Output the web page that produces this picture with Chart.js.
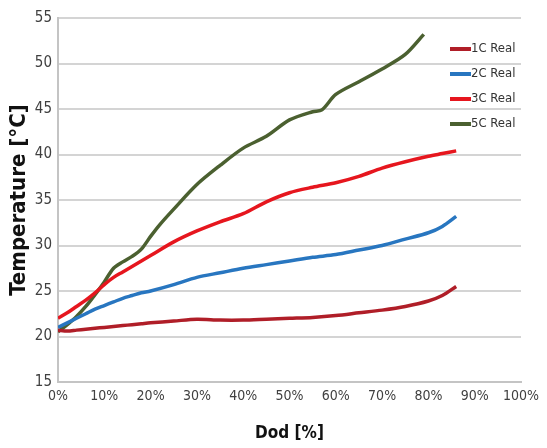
<!DOCTYPE html>
<html>
<head>
<meta charset="utf-8">
<script src="https://cdn.jsdelivr.net/npm/chart.js@4"></script>
<style>
  html, body { margin: 0; padding: 0; background: #fff; }
  #wrap { width: 547px; height: 448px; }
</style>
</head>
<body>
<div id="wrap"><canvas id="tempChart" width="547" height="448"></canvas></div>
<script>
// DoD sample points [%]
const dodPoints = [0, 2, 4, 6, 8, 10, 12, 14, 16, 18, 20, 25, 30, 35, 40, 45, 50, 55, 60, 65, 70, 75, 80, 83, 86];
const dodPoints5C = [0, 2, 4, 6, 8, 10, 12, 14, 16, 18, 20, 22, 25, 30, 35, 40, 45, 50, 55, 57, 60, 65, 70, 75, 79];

// Temperatures [°C]
const temp1C = [20.7, 20.6, 20.7, 20.8, 20.9, 21.0, 21.1, 21.2, 21.3, 21.4, 21.5, 21.7, 21.9, 21.8, 21.8, 21.9, 22.0, 22.1, 22.3, 22.6, 22.9, 23.3, 23.9, 24.5, 25.5];
const temp2C = [21.0, 21.5, 22.0, 22.5, 23.0, 23.4, 23.8, 24.2, 24.5, 24.8, 25.0, 25.7, 26.5, 27.0, 27.5, 27.9, 28.3, 28.7, 29.0, 29.5, 30.0, 30.7, 31.4, 32.1, 33.2];
const temp3C = [22.0, 22.6, 23.3, 24.0, 24.8, 25.7, 26.5, 27.1, 27.7, 28.3, 28.9, 30.4, 31.6, 32.6, 33.5, 34.8, 35.8, 36.4, 36.9, 37.6, 38.5, 39.2, 39.8, 40.1, 40.4];
const temp5C = [20.5, 21.3, 22.2, 23.3, 24.6, 26.0, 27.5, 28.2, 28.8, 29.6, 31.0, 32.3, 34.0, 36.7, 38.8, 40.7, 42.0, 43.8, 44.7, 44.9, 46.6, 48.0, 49.4, 51.0, 53.2];

const seriesLabels = ['1C Real', '2C Real', '3C Real', '5C Real'];
const seriesColors = ['#b01e28', '#2876c0', '#e6161e', '#4b6030'];

function toXY(xs, ys) {
    return xs.map((x, i) => ({ x: x, y: ys[i] }));
}

// condensed face to get close to the squeezed look of the original
const fontFamily = "'DejaVu Sans', sans-serif";

// legend drawn inside the plot area, top right
const insideLegend = {
    id: 'insideLegend',
    afterDraw(chart) {
        const ctx = chart.ctx;
        const left = 450;
        const top = 49;
        const step = 25;
        ctx.save();
        chart.data.datasets.forEach((ds, i) => {
            const y = top + i * step;
            ctx.strokeStyle = ds.borderColor;
            ctx.lineWidth = 4;
            ctx.beginPath();
            ctx.moveTo(left, y);
            ctx.lineTo(left + 21, y);
            ctx.stroke();
            ctx.fillStyle = '#333';
            ctx.font = 'condensed 13px ' + fontFamily;
            ctx.textBaseline = 'middle';
            ctx.fillText(ds.label, left + 21, y);
        });
        ctx.restore();
    }
};

const ctx = document.getElementById('tempChart').getContext('2d');

new Chart(ctx, {
    type: 'line',
    data: {
        datasets: [
            { label: seriesLabels[0], data: toXY(dodPoints, temp1C), borderColor: seriesColors[0] },
            { label: seriesLabels[1], data: toXY(dodPoints, temp2C), borderColor: seriesColors[1] },
            { label: seriesLabels[2], data: toXY(dodPoints, temp3C), borderColor: seriesColors[2] },
            { label: seriesLabels[3], data: toXY(dodPoints5C, temp5C), borderColor: seriesColors[3] }
        ]
    },
    options: {
        responsive: false,
        animation: false,
        layout: { padding: { left: 6, right: 26, top: 18, bottom: 4 } },
        elements: {
            line: { borderWidth: 3.5, tension: 0.3, fill: false },
            point: { radius: 0 }
        },
        plugins: {
            legend: { display: false },
            tooltip: { enabled: false }
        },
        scales: {
            x: {
                type: 'linear',
                min: 0,
                max: 100,
                ticks: {
                    stepSize: 10,
                    color: '#404040',
                    font: { size: 14, weight: 'condensed', family: fontFamily },
                    padding: 6,
                    callback: function(value) { return value + '%'; }
                },
                grid: { display: false, drawTicks: false },
                border: { color: '#c4c4c4', width: 2 },
                title: {
                    display: true,
                    text: 'Dod [%]',
                    color: '#111',
                    font: { size: 17, weight: 'bold condensed', family: fontFamily },
                    padding: { top: 6, bottom: 0 }
                },
                afterFit: function(scale) { scale.height = 62; }
            },
            y: {
                min: 15,
                max: 55,
                ticks: {
                    stepSize: 5,
                    color: '#404040',
                    font: { size: 15, weight: 'condensed', family: fontFamily },
                    padding: 6
                },
                grid: { color: '#d4d4d4', lineWidth: 2, drawTicks: false },
                border: { color: '#c4c4c4', width: 2 },
                title: {
                    display: true,
                    text: 'Temperature [°C]',
                    color: '#111',
                    font: { size: 22, weight: 'bold condensed', family: fontFamily },
                    padding: { top: 0, bottom: 3 }
                },
                afterFit: function(scale) { scale.width = 52; }
            }
        }
    },
    plugins: [insideLegend]
});
</script>
</body>
</html>
